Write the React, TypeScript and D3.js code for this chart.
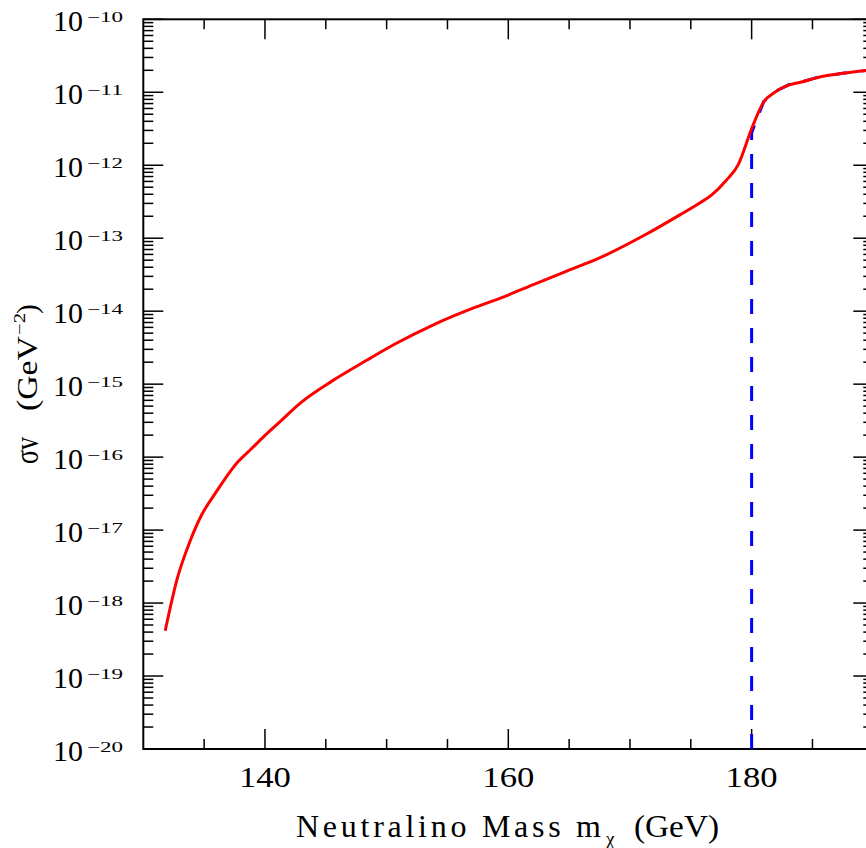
import React from "react";
import * as d3 from "d3";

// neutralino mass (GeV) and sigma*v (GeV^-2)
const massRed = [131.8, 132.8, 133.8, 134.8, 135.9, 137.8, 138.8, 139.9, 141.2, 142.9, 145.5, 148.4, 150.8, 153.8, 157.1, 159.3, 162.0, 164.8, 167.5, 171.4, 174.1, 175.7, 176.7, 177.9, 178.9, 180.0, 181.0, 181.9, 183.1, 184.1, 185.6, 187.5, 190.0];
const sigmaRed = [4.17e-19, 2.19e-18, 6.76e-18, 1.62e-17, 3.16e-17, 8.71e-17, 1.26e-16, 1.91e-16, 3.02e-16, 5.5e-16, 1.10e-15, 2.14e-15, 3.63e-15, 6.46e-15, 1.10e-14, 1.50e-14, 2.29e-14, 3.55e-14, 5.37e-14, 1.15e-13, 2.09e-13, 3.02e-13, 3.89e-13, 6.17e-13, 1.02e-12, 3.16e-12, 7.41e-12, 1.00e-11, 1.26e-11, 1.38e-11, 1.62e-11, 1.82e-11, 2.04e-11];

const massBlue = [180.0, 180.0, 181.0, 181.9, 183.1, 184.1, 185.6, 187.5, 190.0];
const sigmaBlue = [1e-20, 2.8e-12, 7.5e-12, 1.02e-11, 1.28e-11, 1.39e-11, 1.63e-11, 1.82e-11, 2.04e-11];

const xMajorTicks = [140, 160, 180];
const xMinorTicks = [135, 145, 150, 155, 165, 170, 175, 185];
const yExponents = [-10, -11, -12, -13, -14, -15, -16, -17, -18, -19, -20];

const W = 866;
const H = 848;
const L = 143.3, R = 873.3, T = 19.3, B = 749;

export default function App() {
  const x = d3.scaleLinear().domain([130, 190]).range([L, R]);
  const y = d3.scaleLog().domain([1e-20, 1e-10]).range([B, T]);
  const redLine = d3
    .line<[number, number]>()
    .x((d) => x(d[0]))
    .y((d) => y(d[1]))
    .curve(d3.curveMonotoneX);
  const blueLine = d3
    .line<[number, number]>()
    .x((d) => x(d[0]))
    .y((d) => y(d[1]));
  const red = massRed.map((m, i) => [m, sigmaRed[i]] as [number, number]);
  const blue = massBlue.map((m, i) => [m, sigmaBlue[i]] as [number, number]);

  const yMinor: number[] = [];
  for (let e = -20; e < -10; e++) {
    for (let k = 2; k <= 9; k++) yMinor.push(k * Math.pow(10, e));
  }
  const font = "'Liberation Serif', serif";
  const tickStroke = "#000";

  return (
    <svg
      width={W}
      height={H}
      style={{ position: "absolute", left: 0, top: 0, background: "#fff" }}
    >
      <defs>
        <clipPath id="plotclip">
          <rect x={L} y={T} width={R - L} height={B - T} />
        </clipPath>
      </defs>
      {/* y ticks left & right */}
      {yExponents.map((e) => {
        const yy = y(Math.pow(10, e));
        return (
          <g key={"ym" + e}>
            <line x1={L} x2={L + 20} y1={yy} y2={yy} stroke={tickStroke} strokeWidth={1.5} />
            <line x1={R} x2={R - 20} y1={yy} y2={yy} stroke={tickStroke} strokeWidth={1.5} />
          </g>
        );
      })}
      {yMinor.map((v, i) => {
        const yy = y(v);
        return (
          <g key={"yn" + i}>
            <line x1={L} x2={L + 10} y1={yy} y2={yy} stroke={tickStroke} strokeWidth={1.5} />
            <line x1={R} x2={R - 10} y1={yy} y2={yy} stroke={tickStroke} strokeWidth={1.5} />
          </g>
        );
      })}
      {/* x ticks bottom & top */}
      {xMajorTicks.map((t) => (
        <g key={"xm" + t}>
          <line x1={x(t)} x2={x(t)} y1={B} y2={B - 20} stroke={tickStroke} strokeWidth={1.5} />
          <line x1={x(t)} x2={x(t)} y1={T} y2={T + 20} stroke={tickStroke} strokeWidth={1.5} />
        </g>
      ))}
      {xMinorTicks.map((t) => (
        <g key={"xn" + t}>
          <line x1={x(t)} x2={x(t)} y1={B} y2={B - 10} stroke={tickStroke} strokeWidth={1.5} />
          <line x1={x(t)} x2={x(t)} y1={T} y2={T + 10} stroke={tickStroke} strokeWidth={1.5} />
        </g>
      ))}
      {/* frame */}
      <rect x={L} y={T} width={R - L} height={B - T} fill="none" stroke="#000" strokeWidth={2} />

      {/* curves */}
      <g clipPath="url(#plotclip)">
        <path d={blueLine(blue) || ""} fill="none" stroke="#0000ff" strokeWidth={3} strokeDasharray="15 14" />
        <path d={redLine(red) || ""} fill="none" stroke="#ff0000" strokeWidth={3} strokeLinejoin="round" />
      </g>

      {/* y tick labels */}
      {yExponents.map((e) => {
        const yy = y(Math.pow(10, e));
        return (
          <g key={"yl" + e} fontFamily={font} fill="#000">
            <text x={53} y={yy + 11.5} fontSize={29} textLength={30} lengthAdjust="spacingAndGlyphs">10</text>
            <text x={87} y={yy + 2.5} fontSize={14.5} textLength={36} lengthAdjust="spacingAndGlyphs">
              {"\u2212" + Math.abs(e)}
            </text>
          </g>
        );
      })}
      {/* x tick labels */}
      {xMajorTicks.map((t) => (
        <text key={"xl" + t} x={x(t) - 26} y={787} fontFamily={font} fontSize={29.5} textLength={52} lengthAdjust="spacingAndGlyphs">
          {t}
        </text>
      ))}
      {/* x title */}
      <g fontFamily={font} fill="#000">
        <text x={296} y={837} fontSize={32} textLength={305} lengthAdjust="spacing">Neutralino Mass m</text>
        <text x={606} y={845} fontSize={19}>χ</text>
        <text x={634} y={837} fontSize={32} textLength={85} lengthAdjust="spacingAndGlyphs">(GeV)</text>
      </g>
      {/* y title */}
      <g fontFamily={font} fill="#000" transform="rotate(-90)">
        <text x={-464} y={38} fontSize={33} textLength={27} lengthAdjust="spacingAndGlyphs">σv</text>
        <text x={-411} y={37} fontSize={29} textLength={75} lengthAdjust="spacingAndGlyphs">(GeV</text>
        <text x={-335} y={25} fontSize={16} textLength={22} lengthAdjust="spacingAndGlyphs">{"\u22122"}</text>
        <text x={-314} y={37} fontSize={29}>)</text>
      </g>
    </svg>
  );
}
